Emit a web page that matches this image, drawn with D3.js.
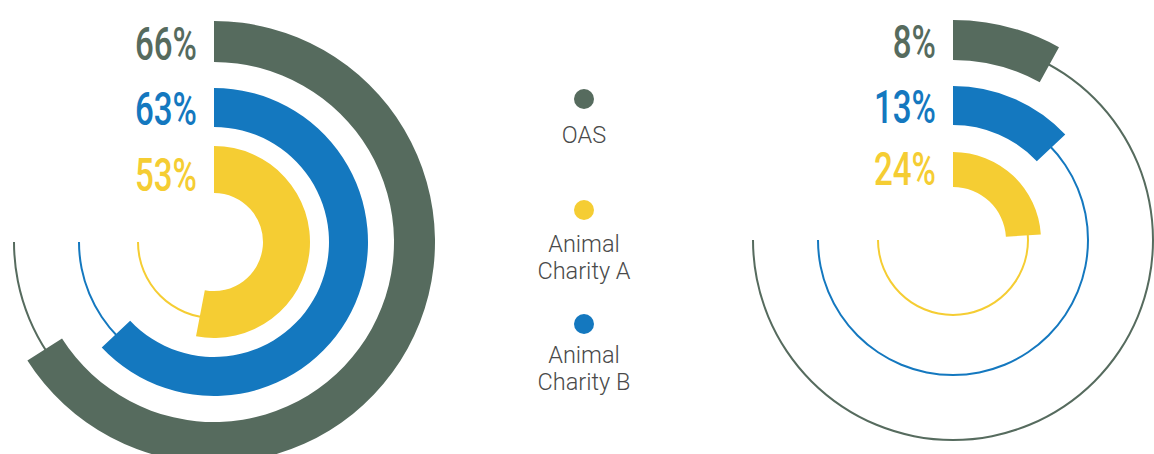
<!DOCTYPE html>
<html>
<head>
<meta charset="utf-8">
<script src="https://cdn.jsdelivr.net/npm/d3@7"></script>
<style>
  html, body { margin: 0; padding: 0; background: #ffffff; }
  svg { display: block; }
</style>
</head>
<body>
<svg id="chart" width="1154" height="454"></svg>
<script>
// ---- data ----
const series = ["OAS", "Animal Charity A", "Animal Charity B"];
const seriesLabels = [["OAS"], ["Animal", "Charity A"], ["Animal", "Charity B"]];
const colors = ["#566b5e", "#f5cd33", "#1478bf"];
const leftValues = [66, 53, 63];   // OAS, Charity A, Charity B
const rightValues = [8, 24, 13];   // OAS, Charity A, Charity B
const trackMax = 75;               // thin track runs to 75% of the circle

// ---- layout ----
const svg = d3.select("#chart");
const angle = d3.scaleLinear().domain([0, 100]).range([0, 2 * Math.PI]);

const charts = [
  { cx: 214, cy: 242, values: leftValues,
    rings: [ {inner: 180, outer: 221, track: 200},   // OAS
             {inner: 49,  outer: 96,  track: 76},    // A
             {inner: 115, outer: 154, track: 135} ] },// B
  { cx: 953, cy: 240, values: rightValues,
    rings: [ {inner: 180, outer: 220, track: 200},
             {inner: 53,  outer: 88,  track: 75},
             {inner: 115, outer: 154, track: 135} ] }
];

charts.forEach(c => {
  const g = svg.append("g").attr("transform", `translate(${c.cx},${c.cy})`);
  c.values.forEach((v, i) => {
    const r = c.rings[i];
    g.append("path")
      .attr("d", d3.arc()({innerRadius: r.track - 1, outerRadius: r.track + 1,
                           startAngle: 0, endAngle: angle(trackMax)}))
      .attr("fill", colors[i]);
    g.append("path")
      .attr("d", d3.arc()({innerRadius: r.inner, outerRadius: r.outer,
                           startAngle: 0, endAngle: angle(v)}))
      .attr("fill", colors[i]);
    g.append("text")
      .attr("transform", `translate(-17,${-r.inner - 2}) scale(0.72,1)`)
      .attr("text-anchor", "end")
      .attr("font-family", "Roboto, 'DejaVu Sans Condensed', sans-serif")
      .attr("font-weight", 500)
      .attr("font-size", 46)
      .attr("fill", colors[i])
      .text(v + "%");
  });
});

// ---- legend ----
const legendX = 584;
const legendDots = [99, 210, 324];
const legendBaselines = [143, 252, 363];
const lg = svg.append("g");
series.forEach((s, i) => {
  lg.append("circle").attr("cx", legendX).attr("cy", legendDots[i]).attr("r", 10).attr("fill", colors[i]);
  const t = lg.append("text")
    .attr("x", legendX).attr("y", legendBaselines[i])
    .attr("text-anchor", "middle")
    .attr("font-family", "Roboto, 'Liberation Sans', sans-serif")
    .attr("font-weight", 300)
    .attr("font-size", 23.5)
    .attr("fill", "#4a4a4a");
  seriesLabels[i].forEach((line, j) => {
    t.append("tspan").attr("x", legendX).attr("dy", j === 0 ? 0 : 27).text(line);
  });
});
</script>
</body>
</html>
